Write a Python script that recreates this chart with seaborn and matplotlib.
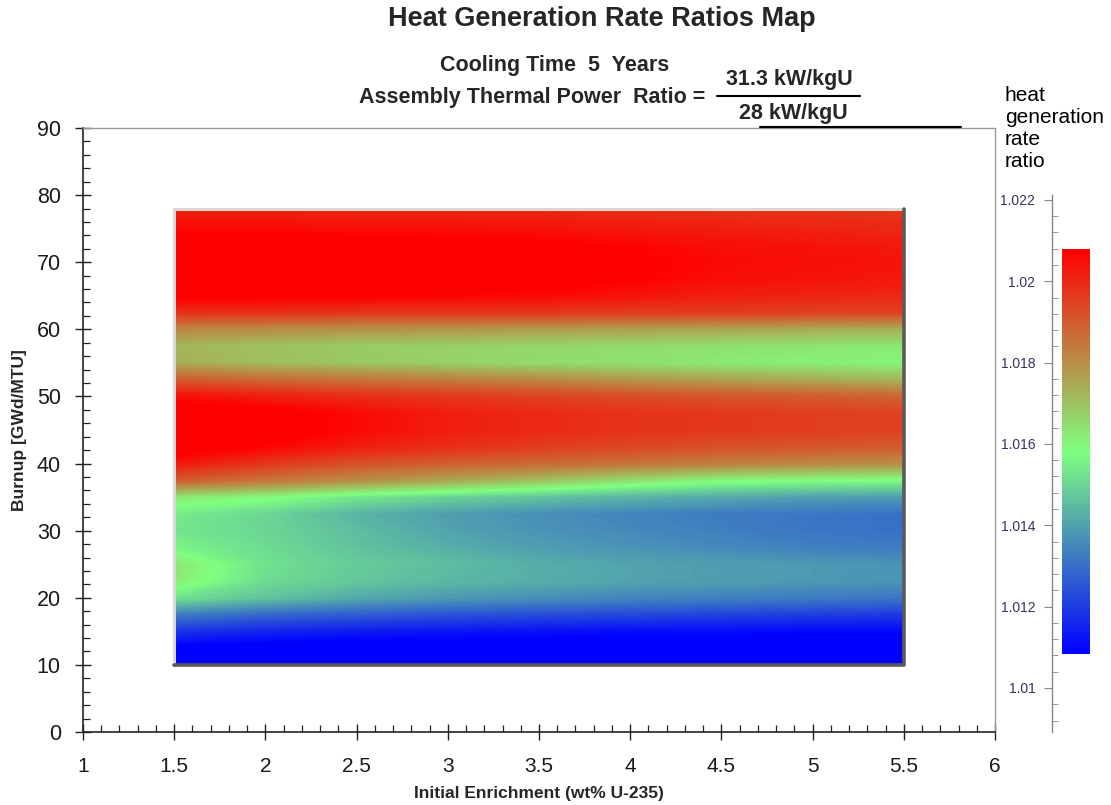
import numpy as np
import matplotlib
matplotlib.use("Agg")
import matplotlib.pyplot as plt
import seaborn as sns
from matplotlib.colors import LinearSegmentedColormap, Normalize
from matplotlib.cm import ScalarMappable
from matplotlib.ticker import MultipleLocator, FixedLocator, FixedFormatter
from matplotlib.lines import Line2D

# ---------------- data ----------------
enrichment = [1.5, 2.0, 2.5, 3.0, 3.5, 4.0, 4.5, 5.0, 5.5]
burnup = [10, 12.5, 15, 17.5, 20, 22.5, 25, 27.5, 30, 32.5, 35, 37.5, 40, 42.5,
          45, 47.5, 50, 52.5, 55, 57.5, 60, 62.5, 65, 67.5, 70, 72.5, 75, 78]
# heat generation rate ratio, one row per burnup value, columns follow enrichment
ratio = [
    [1.0102, 1.0102, 1.0102, 1.0102, 1.0102, 1.0102, 1.0102, 1.0102, 1.0102],  # 10
    [1.0106, 1.0105, 1.0104, 1.0104, 1.0104, 1.0104, 1.0104, 1.0104, 1.0104],  # 12.5
    [1.0118, 1.0115, 1.0113, 1.0112, 1.0111, 1.0110, 1.0110, 1.0109, 1.0109],  # 15
    [1.0132, 1.0128, 1.0126, 1.0124, 1.0123, 1.0122, 1.0121, 1.0120, 1.0119],  # 17.5
    [1.0152, 1.0146, 1.0141, 1.0138, 1.0136, 1.0134, 1.0133, 1.0132, 1.0131],  # 20
    [1.0162, 1.0151, 1.0147, 1.0144, 1.0142, 1.0140, 1.0139, 1.0138, 1.0137],  # 22.5
    [1.0163, 1.0152, 1.0148, 1.0145, 1.0142, 1.0140, 1.0139, 1.0138, 1.0137],  # 25
    [1.0156, 1.0151, 1.0146, 1.0142, 1.0139, 1.0137, 1.0135, 1.0133, 1.0132],  # 27.5
    [1.0153, 1.0150, 1.0145, 1.0140, 1.0137, 1.0135, 1.0133, 1.0131, 1.0130],  # 30
    [1.0154, 1.0150, 1.0143, 1.0139, 1.0136, 1.0134, 1.0132, 1.0131, 1.0130],  # 32.5
    [1.0162, 1.0159, 1.0153, 1.0149, 1.0146, 1.0143, 1.0141, 1.0139, 1.0138],  # 35
    [1.0190, 1.0185, 1.0180, 1.0175, 1.0170, 1.0164, 1.0159, 1.0158, 1.0157],  # 37.5
    [1.0203, 1.0197, 1.0192, 1.0189, 1.0187, 1.0185, 1.0183, 1.0181, 1.0180],  # 40
    [1.0212, 1.0207, 1.0202, 1.0199, 1.0196, 1.0194, 1.0192, 1.0191, 1.0190],  # 42.5
    [1.0215, 1.0211, 1.0206, 1.0202, 1.0200, 1.0198, 1.0197, 1.0196, 1.0195],  # 45
    [1.0213, 1.0210, 1.0206, 1.0202, 1.0200, 1.0198, 1.0197, 1.0196, 1.0195],  # 47.5
    [1.0205, 1.0202, 1.0199, 1.0197, 1.0195, 1.0193, 1.0191, 1.0190, 1.0188],  # 50
    [1.0190, 1.0187, 1.0185, 1.0183, 1.0181, 1.0178, 1.0176, 1.0174, 1.0172],  # 52.5
    [1.0174, 1.0171, 1.0169, 1.0167, 1.0165, 1.0164, 1.0162, 1.0161, 1.0160],  # 55
    [1.0172, 1.0170, 1.0168, 1.0167, 1.0166, 1.0165, 1.0164, 1.0163, 1.0162],  # 57.5
    [1.0181, 1.0180, 1.0179, 1.0178, 1.0177, 1.0176, 1.0175, 1.0174, 1.0173],  # 60
    [1.0198, 1.0198, 1.0197, 1.0197, 1.0197, 1.0196, 1.0196, 1.0195, 1.0195],  # 62.5
    [1.0210, 1.0209, 1.0208, 1.0207, 1.0206, 1.0204, 1.0202, 1.0201, 1.0200],  # 65
    [1.0214, 1.0213, 1.0212, 1.0211, 1.0210, 1.0208, 1.0205, 1.0204, 1.0203],  # 67.5
    [1.0215, 1.0214, 1.0213, 1.0212, 1.0211, 1.0209, 1.0206, 1.0205, 1.0204],  # 70
    [1.0212, 1.0212, 1.0211, 1.0210, 1.0209, 1.0207, 1.0205, 1.0204, 1.0203],  # 72.5
    [1.0206, 1.0206, 1.0205, 1.0205, 1.0204, 1.0203, 1.0202, 1.0201, 1.0200],  # 75
    [1.0201, 1.0201, 1.0200, 1.0200, 1.0200, 1.0199, 1.0198, 1.0198, 1.0197],  # 78
]
color_min, color_max = 1.0108, 1.0208
cbar_ticks = [1.01, 1.012, 1.014, 1.016, 1.018, 1.02, 1.022]
cbar_labels = ["1.01", "1.012", "1.014", "1.016", "1.018", "1.02", "1.022"]
x_ticks = [1, 1.5, 2, 2.5, 3, 3.5, 4, 4.5, 5, 5.5, 6]
y_ticks = [0, 10, 20, 30, 40, 50, 60, 70, 80, 90]

# ---------------- style ----------------
sns.set_style("white")
plt.rcParams["font.family"] = ["Liberation Sans", "DejaVu Sans"]

cmap = LinearSegmentedColormap.from_list("bgr", ["#0000FF", "#80FF80", "#FF0000"])
norm = Normalize(vmin=color_min, vmax=color_max)

fig = plt.figure(figsize=(11.11, 8.05), dpi=100)
ax = fig.add_axes([83 / 1111, 73 / 805, 912 / 1111, 604 / 805])

Z = np.array(ratio)
levels = np.linspace(color_min, color_max, 301)
ax.contourf(enrichment, burnup, Z, levels=levels, cmap=cmap, norm=norm,
            extend="both", antialiased=False)

# 3-D style frame around the map
x0, x1 = min(enrichment), max(enrichment)
y0, y1 = min(burnup), max(burnup)
ax.add_line(Line2D([x0, x0, x1], [y0, y1, y1], color="#d9d9d2", lw=2.2, zorder=3))
ax.add_line(Line2D([x0, x1, x1], [y0, y0, y1], color="#5a5a5a", lw=2.6, zorder=3))

ax.set_xlim(1, 6)
ax.set_ylim(0, 90)
ax.xaxis.set_major_locator(FixedLocator(x_ticks))
ax.yaxis.set_major_locator(FixedLocator(y_ticks))
ax.xaxis.set_minor_locator(MultipleLocator(0.1))
ax.yaxis.set_minor_locator(MultipleLocator(2))
ax.set_xticklabels([f"{t:g}" for t in x_ticks], fontsize=15)
ax.set_yticklabels([f"{t:g}" for t in y_ticks], fontsize=15.5)
ax.tick_params(axis="both", which="both", bottom=True, left=True, top=False, right=False)
ax.tick_params(axis="both", which="major", direction="inout", length=12, width=1,
               color="#222222", labelcolor="#1a1a1a")
ax.tick_params(axis="both", which="minor", direction="in", length=5, width=0.9,
               color="#222222")
ax.tick_params(axis="x", which="major", pad=12)
ax.tick_params(axis="y", which="major", pad=10)
for s in ["left", "bottom"]:
    ax.spines[s].set_color("#222222")
    ax.spines[s].set_linewidth(1.2)
for s in ["top", "right"]:
    ax.spines[s].set_color("#999999")
    ax.spines[s].set_linewidth(1.0)

ax.set_xlabel("Initial Enrichment (wt% U-235)", fontsize=12.5, fontweight="bold",
              labelpad=7)
ax.set_ylabel("Burnup [GWd/MTU]", fontsize=12.5, fontweight="bold", labelpad=7)

# ---------------- colorbar ----------------
cax = fig.add_axes([1062 / 1111, 151 / 805, 28 / 1111, 405 / 805])
cb = fig.colorbar(ScalarMappable(norm=norm, cmap=cmap), cax=cax)
cb.outline.set_visible(False)
cax.set_yticks([])

tax = fig.add_axes([1052 / 1111, 73 / 805, 30 / 1111, 537 / 805])
tax.patch.set_alpha(0)
tax.set_xticks([])
tax.set_ylim(1.008918, 1.02212)
for s in ["top", "right", "bottom"]:
    tax.spines[s].set_visible(False)
tax.spines["left"].set_color("#888888")
tax.spines["left"].set_linewidth(1.0)
tax.yaxis.set_major_locator(FixedLocator(cbar_ticks))
tax.yaxis.set_major_formatter(FixedFormatter(cbar_labels))
tax.yaxis.set_minor_locator(MultipleLocator(0.0004))
tax.tick_params(axis="y", which="both", left=True, right=False)
tax.tick_params(axis="y", which="major", direction="out", length=6, color="#888888",
                labelsize=10, labelcolor="#3a3060", pad=6)
tax.tick_params(axis="y", which="minor", direction="in", length=4, color="#888888")

fig.text(1005 / 1111, 1 - 86 / 805, "heat\ngeneration\nrate\nratio", ha="left",
         va="top", fontsize=15, linespacing=1.2, color="black")

# ---------------- titles ----------------
fig.text(602 / 1111, 1 - 19 / 805, "Heat Generation Rate Ratios Map", ha="center",
         va="center", fontsize=19.5, fontweight="bold")
fig.text(555 / 1111, 1 - 65 / 805, "Cooling Time  5  Years", ha="center", va="center",
         fontsize=15.5, fontweight="bold")
fig.text(705 / 1111, 1 - 98 / 805, "Assembly Thermal Power  Ratio =", ha="right",
         va="center", fontsize=15.5, fontweight="bold")
fig.text(789 / 1111, 1 - 80 / 805, "31.3 kW/kgU", ha="center", va="center",
         fontsize=15.5, fontweight="bold")
fig.text(793 / 1111, 1 - 113 / 805, "28 kW/kgU", ha="center", va="center",
         fontsize=15.5, fontweight="bold")
fig.add_artist(Line2D([717 / 1111, 860 / 1111], [1 - 96 / 805, 1 - 96 / 805],
                      color="black", lw=1.5, transform=fig.transFigure))
fig.add_artist(Line2D([760 / 1111, 961 / 1111], [1 - 127 / 805, 1 - 127 / 805],
                      color="black", lw=1.5, transform=fig.transFigure))

fig.savefig("out.png", dpi=100)
